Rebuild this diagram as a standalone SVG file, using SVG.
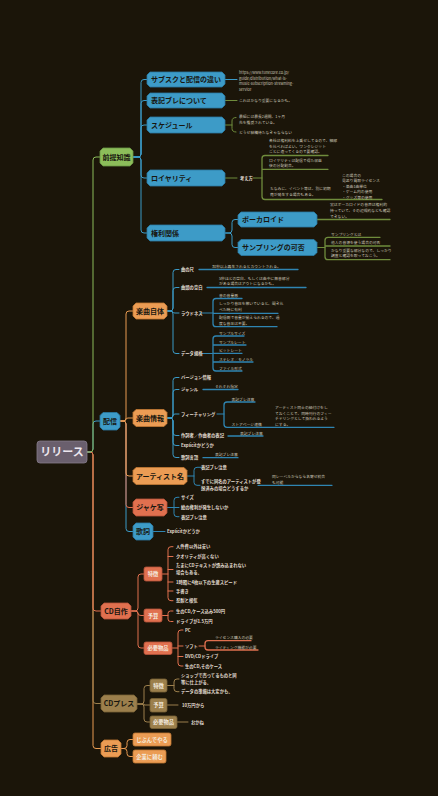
<svg xmlns="http://www.w3.org/2000/svg" width="438" height="796" viewBox="0 0 438 796">
<style>
text{font-family:"Noto Sans CJK JP","Noto Sans",sans-serif}
.n1{font-size:7px;font-weight:bold;fill:#18160f}
.n1c{font-size:7px;font-weight:bold;fill:#18160f;text-anchor:middle}
.sb{font-size:5.3px;font-weight:bold;fill:#f4ebdf;text-anchor:middle}
.lf{font-size:4.3px;font-weight:bold;fill:#e2ddd2}
.nt{font-size:3.8px;fill:#cbc5b8}
.c{fill:none;stroke-width:1;stroke-linecap:round;stroke-linejoin:round}
.cg{stroke:#8cbc5a}.cb{stroke:#3b9bc8}.cbd{stroke:#2f85b2}.cd{stroke:#6f8c3c}
.co{stroke:#e99b52}.cr{stroke:#e0704f}.cn{stroke:#9c7f4c}
.u{stroke-width:1.3}
.pb{fill:#3d9bc7;stroke:#2b7aa2;stroke-width:0.8}
.po{fill:#eb9c54;stroke:#c27934;stroke-width:0.8}
.pr{fill:#e0704f;stroke:#b6533a;stroke-width:0.8}
.pg{fill:#8cbd5a;stroke:#6b9744;stroke-width:0.8}
.pn{fill:#9c7f4c;stroke:#7a6236;stroke-width:0.8}
</style>
<rect width="438" height="796" fill="#1b1509"/>

<g id="connectors">
<path class="c co" d="M87,452 H90 Q93,452 93,455 V745.5 Q93,748.5 96,748.5 H101"/>
<path class="c cn" d="M87,452 H90 Q93,452 93,455 V700.5 Q93,703.5 96,703.5 H101"/>
<path class="c cr" d="M87,452 H90 Q93,452 93,455 V608 Q93,611 96,611 H101"/>
<path class="c cb" d="M87,452 H90 Q93,452 93,449 V424 Q93,421 96,421 H100"/>
<path class="c cg" d="M87,452 H90 Q93,452 93,449 V160 Q93,157 96,157 H100"/>

<path class="c cb" d="M133,157 H138 Q141,157 141,154 V82.5 Q141,79.5 144,79.5 H147"/>
<path class="c cb" d="M133,157 H138 Q141,157 141,154 V103.5 Q141,100.5 144,100.5 H147"/>
<path class="c cb" d="M133,157 H138 Q141,157 141,154 V128 Q141,125 144,125 H147"/>
<path class="c cb" d="M133,157 H138 Q141,157 141,160 V175 Q141,178 144,178 H147"/>
<path class="c cb" d="M133,157 H138 Q141,157 141,160 V230 Q141,233 144,233 H147"/>
<path class="c cb" d="M225,79.5 H237"/>
<path class="c cd" d="M225,100.5 H237"/>
<path class="c cd" d="M225,125 H232 M236,117.5 Q232,117.5 232,121 V128.5 Q232,132 236,132"/>
<path class="c cd" d="M225,178 H237 M253,178 H262"/>
<path class="c cd u" d="M328,155.5 H265 Q262,155.5 262,158.5 V196.5 Q262,199.5 265,199.5 H382 M262,169.3 H328"/>
<path class="c cb" d="M225,233 H229 Q232,233 232,230 V222.5 Q232,219.5 235,219.5 H238"/>
<path class="c cb" d="M225,233 H229 Q232,233 232,236 V244.5 Q232,247.5 235,247.5 H238"/>
<path class="c cd u" d="M317,219.5 H390"/>
<path class="c cd" d="M317,247.5 H325"/>
<path class="c cd u" d="M380,237.3 H328 Q325,237.3 325,240.3 V256.7 Q325,259.7 328,259.7 H390 M325,246 H390"/>

<path class="c cb" d="M120,421 H123 Q126,421 126,424 V528.5 Q126,531.5 129,531.5 H133"/>
<path class="c cr" d="M120,421 H123 Q126,421 126,424 V504.5 Q126,507.5 129,507.5 H133"/>
<path class="c co" d="M120,421 H123 Q126,421 126,424 V473 Q126,476 129,476 H133"/>
<path class="c co" d="M120,421 H123 Q126,421 126,419.5 Q126,418 128,418 H133"/>
<path class="c co" d="M120,421 H123 Q126,421 126,418 V314 Q126,311 129,311 H133"/>

<path class="c cb" d="M167,311 H170 Q173,311 173,308 V272.5 Q173,269.5 176,269.5 H179"/>
<path class="c cb" d="M167,311 H170 Q173,311 173,308 V290.5 Q173,287.5 176,287.5 H179"/>
<path class="c cb" d="M167,311 H170 Q173,311 173,312 Q173,313 175,313 H179"/>
<path class="c cb" d="M167,311 H170 Q173,311 173,314 V350.5 Q173,353.5 176,353.5 H179"/>
<path class="c cbd u" d="M199,269.5 H298 M207,287.5 H306"/>
<path class="c cbd" d="M200,313 H213 M202,353.5 H213"/>
<path class="c cbd u" d="M242,298.5 H216 Q213,298.5 213,301.5 V323.7 Q213,326.7 216,326.7 H277 M213,313.3 H278"/>
<path class="c cbd u" d="M244,336 H216 Q213,336 213,339 V368 Q213,371 216,371 H242 M213,345 H246 M213,353.3 H242 M213,362 H253"/>

<path class="c cb" d="M167,418 H170 Q173,418 173,415 V380.5 Q173,377.5 176,377.5 H179"/>
<path class="c cb" d="M167,418 H170 Q173,418 173,415 V392.5 Q173,389.5 176,389.5 H179"/>
<path class="c cb" d="M167,418 H170 Q173,418 173,416 Q173,414 175,414 H179"/>
<path class="c cb" d="M167,418 H170 Q173,418 173,421 V432.5 Q173,435.5 176,435.5 H179"/>
<path class="c cb" d="M167,418 H170 Q173,418 173,421 V442.5 Q173,445.5 176,445.5 H179"/>
<path class="c cb" d="M167,418 H170 Q173,418 173,421 V454.5 Q173,457.5 176,457.5 H179"/>
<path class="c cbd u" d="M203,389.5 H238 M228,436 H263 M203,457.7 H238"/>
<path class="c cbd" d="M217,414 H224"/>
<path class="c cbd u" d="M255,402 H227 Q224,402 224,405 V424.3 Q224,427.3 227,427.3 H334"/>

<path class="c cbd" d="M187,476 H194 M201,467.3 H197 Q194,467.3 194,470.3 V482.3 Q194,485.3 197,485.3 H200"/>
<path class="c cbd u" d="M258,485.3 H332"/>
<path class="c cbd" d="M167,507.5 H179 M179,497.3 H177 Q174,497.3 174,500.3 V513.7 Q174,516.7 177,516.7 H179"/>
<path class="c cbd" d="M153,531.5 H165"/>

<path class="c cr" d="M131,611 H135 Q138,611 138,608 V577 Q138,574 141,574 H144"/>
<path class="c cr" d="M131,611 H135 Q138,611 138,613 Q138,615.5 141,615.5 H144"/>
<path class="c cr" d="M131,611 H135 Q138,611 138,614 V645 Q138,648 141,648 H144"/>
<path class="c cr" d="M162,574 H168 M173,546.7 H171 Q168,546.7 168,549.7 V597.7 Q168,600.7 171,600.7 H173 M168,556.5 H173 M168,569.5 H173 M168,582 H173 M168,591 H173"/>
<path class="c cr" d="M162,615.5 H168 M173,611 H170.5 Q168,611 168,613.5 V619 Q168,621.5 170.5,621.5 H173"/>
<path class="c cr" d="M172,648 H178 M183,630 H181 Q178,630 178,633 V663 Q178,666 181,666 H183 M178,646 H183 M178,656.5 H183"/>
<path class="c cr" d="M199,646 H205"/>
<path class="c cr u" d="M251,640.7 H208 Q205,640.7 205,643.7 V647 Q205,650 208,650 H258"/>

<path class="c cn" d="M137,704 H141 Q144,704 144,701 V688.5 Q144,685.5 147,685.5 H150"/>
<path class="c cn" d="M137,704 H144 V705 H150"/>
<path class="c cn" d="M137,704 H141 Q144,704 144,707 V719 Q144,722 147,722 H150"/>
<path class="c cn" d="M167,685.5 H174 M179,679 H177 Q174,679 174,682 V688.7 Q174,691.7 177,691.7 H179"/>
<path class="c cn" d="M167,705 H178 M177,722 H188"/>

<path class="c co" d="M121,748.5 H124 Q127,748.5 127,745.5 V742.5 Q127,739.5 130,739.5 H133"/>
<path class="c co" d="M121,748.5 H124 Q127,748.5 127,751.5 V753.5 Q127,756.5 130,756.5 H133"/>
</g>

<g id="root">
<rect x="37" y="441" width="50" height="22" rx="3" fill="#6a5f6d" stroke="#877c8b" stroke-width="0.8"/>
<text x="62" y="456" font-size="11" font-weight="bold" fill="#ece6ee" text-anchor="middle">リリース</text>
</g>

<g id="n-zentei">
<polygon class="pg" points="103,148 130,148 133,151 133,163 130,166 103,166 100,163 100,151"/>
<text class="n1c" x="116.5" y="159.5">前提知識</text>
</g>
<g id="n-subsc">
<polygon class="pb" points="150,72 222,72 225,75 225,84 222,87 150,87 147,84 147,75"/>
<text class="n1" x="151" y="82">サブスクと配信の違い</text>
<text class="nt" x="239" y="74">https://www.tunecore.co.jp/</text>
<text class="nt" x="239" y="79.5">guide/distribution/what-is-</text>
<text class="nt" x="239" y="85">music-subscription-streaming-</text>
<text class="nt" x="239" y="90.5">service</text>
</g>
<g id="n-hyoki">
<polygon class="pb" points="150,93 222,93 225,96 225,105 222,108 150,108 147,105 147,96"/>
<text class="n1" x="151" y="103">表記ブレについて</text>
<text class="nt" x="239" y="102">これはかなり重要になるかも。</text>
</g>
<g id="n-schedule">
<polygon class="pb" points="150,117 222,117 225,120 225,130 222,133 150,133 147,130 147,120"/>
<text class="n1" x="151" y="127.5">スケジュール</text>
<text class="nt" x="239" y="118">最短には最長2週間、1ヶ月</text>
<text class="nt" x="239" y="124">先を推奨されている。</text>
<text class="nt" x="239" y="133.5">どうせ結構待たなきゃならない</text>
</g>
<g id="n-royalty">
<polygon class="pb" points="150,170 222,170 225,173 225,183 222,186 150,186 147,183 147,173"/>
<text class="n1" x="151" y="180.5">ロイヤリティ</text>
<text class="lf" x="240" y="179.5">考え方</text>
<text class="nt" x="269" y="141.5">各社は権利料を上乗せしてるので、細部</text>
<text class="nt" x="269" y="147.5">を比べればよい。ワンクレジット</text>
<text class="nt" x="269" y="153">ごとに違ってくるので要確認。</text>
<text class="nt" x="269" y="161.5">ロイヤリティは配信で得た収益</text>
<text class="nt" x="269" y="167">後の分配割合。</text>
<text class="nt" x="270" y="189.5">ちなみに、イベント等は、別に初期</text>
<text class="nt" x="270" y="196">費が発生する場合もある。</text>
<text class="nt" x="342" y="176.5">この場合の</text>
<text class="nt" x="342" y="182">見返り買取ライセンス</text>
<text class="nt" x="342" y="187.5">・楽曲1曲単位</text>
<text class="nt" x="342" y="193">・ゲーム内の使用</text>
<text class="nt" x="342" y="198.5">・グッズ等の使用</text>
</g>
<g id="n-kenri">
<polygon class="pb" points="150,225 222,225 225,228 225,238 222,241 150,241 147,238 147,228"/>
<text class="n1" x="151" y="235.5">権利関係</text>
</g>
<g id="n-vocaloid">
<polygon class="pb" points="241,212 314,212 317,215 317,224 314,227 241,227 238,224 238,215"/>
<text class="n1" x="242" y="222">ボーカロイド</text>
<text class="nt" x="330" y="205.8">実はボーカロイドの音声は権利的</text>
<text class="nt" x="330" y="212">持っていて、その辺規約なども確認</text>
<text class="nt" x="330" y="217.5">できない。</text>
</g>
<g id="n-sampling">
<polygon class="pb" points="241,239.5 314,239.5 317,242.5 317,252.5 314,255.5 241,255.5 238,252.5 238,242.5"/>
<text class="n1" x="242" y="250">サンプリングの可否</text>
<text class="nt" x="331" y="235.5">サンプリングとは</text>
<text class="nt" x="331" y="244">他人の音源を使う場合の可否</text>
<text class="nt" x="331" y="251.5">かなり重要な部分なので、しっかり</text>
<text class="nt" x="331" y="257">調査と確認を取っておこう。</text>
</g>

<g id="n-haishin">
<polygon class="pb" points="103,412.5 117,412.5 120,415.5 120,427 117,430 103,430 100,427 100,415.5"/>
<text class="n1c" x="110" y="423.8">配信</text>
</g>
<g id="n-gakkyoku">
<polygon class="po" points="136,303 164,303 167,306 167,316 164,319 136,319 133,316 133,306"/>
<text class="n1c" x="150" y="313.5">楽曲自体</text>
<text class="lf" x="181" y="271">曲の尺</text>
<text class="nt" x="212" y="267.5">30秒以上再生されるとカウントされる。</text>
<text class="lf" x="181" y="289">曲頭の空白</text>
<text class="nt" x="219" y="279.5">5秒ほどの空白、もしくは曲中に無音部分</text>
<text class="nt" x="219" y="285">がある場合はアウトになるかも。</text>
<text class="lf" x="181" y="314.5">ラウドネス</text>
<text class="nt" x="219" y="297">音の音量感</text>
<text class="nt" x="219" y="305">しっかり音圧を稼いでいると、聞き比</text>
<text class="nt" x="219" y="311">べた時に有利</text>
<text class="nt" x="219" y="319">配信側で音量が揃えられるので、過</text>
<text class="nt" x="219" y="325">度な音圧は不要。</text>
<text class="lf" x="181" y="355">データ規格</text>
<text class="nt" x="219" y="334.5">サンプルサイズ</text>
<text class="nt" x="219" y="343.5">サンプルレート</text>
<text class="nt" x="219" y="352">ビットレート</text>
<text class="nt" x="219" y="360.5">ステレオ／モノラル</text>
<text class="nt" x="219" y="369.5">ファイル形式</text>
</g>
<g id="n-joho">
<polygon class="po" points="136,409.5 164,409.5 167,412.5 167,423.5 164,426.5 136,426.5 133,423.5 133,412.5"/>
<text class="n1c" x="150" y="420.5">楽曲情報</text>
<text class="lf" x="181" y="379">バージョン情報</text>
<text class="lf" x="181" y="391">ジャンル</text>
<text class="nt" x="215" y="388">それぞれ指定</text>
<text class="lf" x="181" y="415.5">フィーチャリング</text>
<text class="nt" x="231.5" y="400.5">表記ブレ注意</text>
<text class="nt" x="231.5" y="425.8">ストアページ連携</text>
<text class="nt" x="275" y="409">アーティスト同士の紐付けをし</text>
<text class="nt" x="275" y="414.5">ておくことで、同時刊行のフィー</text>
<text class="nt" x="275" y="420">チャリングとして扱われるよう</text>
<text class="nt" x="275" y="425.5">にする。</text>
<text class="lf" x="181" y="437">作詞者／作曲者の表記</text>
<text class="nt" x="240" y="434.8">表記ブレ注意</text>
<text class="lf" x="181" y="447">Explicitかどうか</text>
<text class="lf" x="181" y="459">歌詞言語</text>
<text class="nt" x="215" y="456.2">表記ブレ注意</text>
</g>
<g id="n-artist">
<polygon class="po" points="136,467.5 184,467.5 187,470.5 187,481.5 184,484.5 136,484.5 133,481.5 133,470.5"/>
<text class="n1c" x="160" y="478.5">アーティスト名</text>
<text class="lf" x="201" y="468.8">表記ブレ注意</text>
<text class="lf" x="201" y="482.8">すでに同名のアーティストが登</text>
<text class="lf" x="201" y="490.3">録済みの場合どうするか</text>
<text class="nt" x="272" y="478">同レーベルからなら名寄せ統合</text>
<text class="nt" x="272" y="483.6">も可能</text>
</g>
<g id="n-jacket">
<polygon class="pr" points="136,499 164,499 167,502 167,513 164,516 136,516 133,513 133,502"/>
<text class="n1c" x="150" y="510">ジャケ写</text>
<text class="lf" x="181" y="498.8">サイズ</text>
<text class="lf" x="181" y="509">絵の権利が発生しないか</text>
<text class="lf" x="181" y="518.5">表記ブレ注意</text>
</g>
<g id="n-kashi">
<polygon class="pb" points="136,523 150,523 153,526 153,537 150,540 136,540 133,537 133,526"/>
<text class="n1c" x="143" y="534">歌詞</text>
<text class="lf" x="167" y="533">Explicitかどうか</text>
</g>

<g id="n-cdjisaku">
<polygon class="pr" points="104,603 128,603 131,606 131,616 128,619 104,619 101,616 101,606"/>
<text class="n1c" x="116" y="613.5">CD自作</text>
</g>
<g id="n-cd-tokucho">
<rect class="pr" x="144" y="567" width="18" height="14" rx="2"/>
<text class="sb" x="153" y="576">特徴</text>
<text class="lf" x="176" y="548.3">人件費以外は安い</text>
<text class="lf" x="176" y="557.8">クオリティが高くない</text>
<text class="lf" x="176" y="567.3">たまにCDテキストが読み込まれない</text>
<text class="lf" x="176" y="574.3">場合もある。</text>
<text class="lf" x="176" y="583.5">1時間に4枚以下の生産スピード</text>
<text class="lf" x="176" y="592.5">手書き</text>
<text class="lf" x="176" y="602">忍耐と根気</text>
</g>
<g id="n-cd-yosan">
<rect class="pr" x="144" y="609" width="18" height="13" rx="2"/>
<text class="sb" x="153" y="617.5">予算</text>
<text class="lf" x="176" y="612.5">生のCD,ケース込み500円</text>
<text class="lf" x="176" y="622.8">ドライブが1.5万円</text>
</g>
<g id="n-cd-hitsuyo">
<rect class="pr" x="144" y="642" width="28" height="12.5" rx="2"/>
<text class="sb" x="158" y="650.2">必要物品</text>
<text class="lf" x="185" y="631.5">PC</text>
<text class="lf" x="185" y="647.5">ソフト</text>
<text class="nt" x="215" y="639.3">ライセンス購入の必要</text>
<text class="nt" x="215" y="648.5">ライティング機能が必要</text>
<text class="lf" x="185" y="658">DVD/CDドライブ</text>
<text class="lf" x="185" y="667.5">生のCD,そのケース</text>
</g>

<g id="n-cdpress">
<polygon class="pn" points="104,695 134,695 137,698 137,709 134,712 104,712 101,709 101,698"/>
<text class="n1c" x="119" y="706">CDプレス</text>
</g>
<g id="n-pr-tokucho">
<rect class="pn" x="150" y="679" width="17" height="13" rx="2"/>
<text class="sb" x="158.5" y="687.5">特徴</text>
<text class="lf" x="181" y="677">ショップで売ってるものと同</text>
<text class="lf" x="181" y="683.5">等に仕上がる。</text>
<text class="lf" x="181" y="693">データの準備は大変かも。</text>
</g>
<g id="n-pr-yosan">
<rect class="pn" x="150" y="698.5" width="17" height="13.5" rx="2"/>
<text class="sb" x="158.5" y="707.2">予算</text>
<text class="lf" x="182" y="706.5">10万円から</text>
</g>
<g id="n-pr-hitsuyo">
<rect class="pn" x="150" y="716" width="27" height="12.5" rx="2"/>
<text class="sb" x="163.5" y="724.2">必要物品</text>
<text class="lf" x="191" y="723.5">おかね</text>
</g>

<g id="n-kokoku">
<polygon class="po" points="104,740 118,740 121,743 121,754 118,757 104,757 101,754 101,743"/>
<text class="n1c" x="111" y="751">広告</text>
</g>
<g id="n-jibun">
<rect class="po" x="133" y="733" width="38" height="13" rx="2"/>
<text class="sb" x="152" y="741.5">じぶんでやる</text>
</g>
<g id="n-kigyo">
<rect class="po" x="133" y="750" width="33" height="13" rx="2"/>
<text class="sb" x="149.5" y="758.5">企業に頼む</text>
</g>
</svg>
